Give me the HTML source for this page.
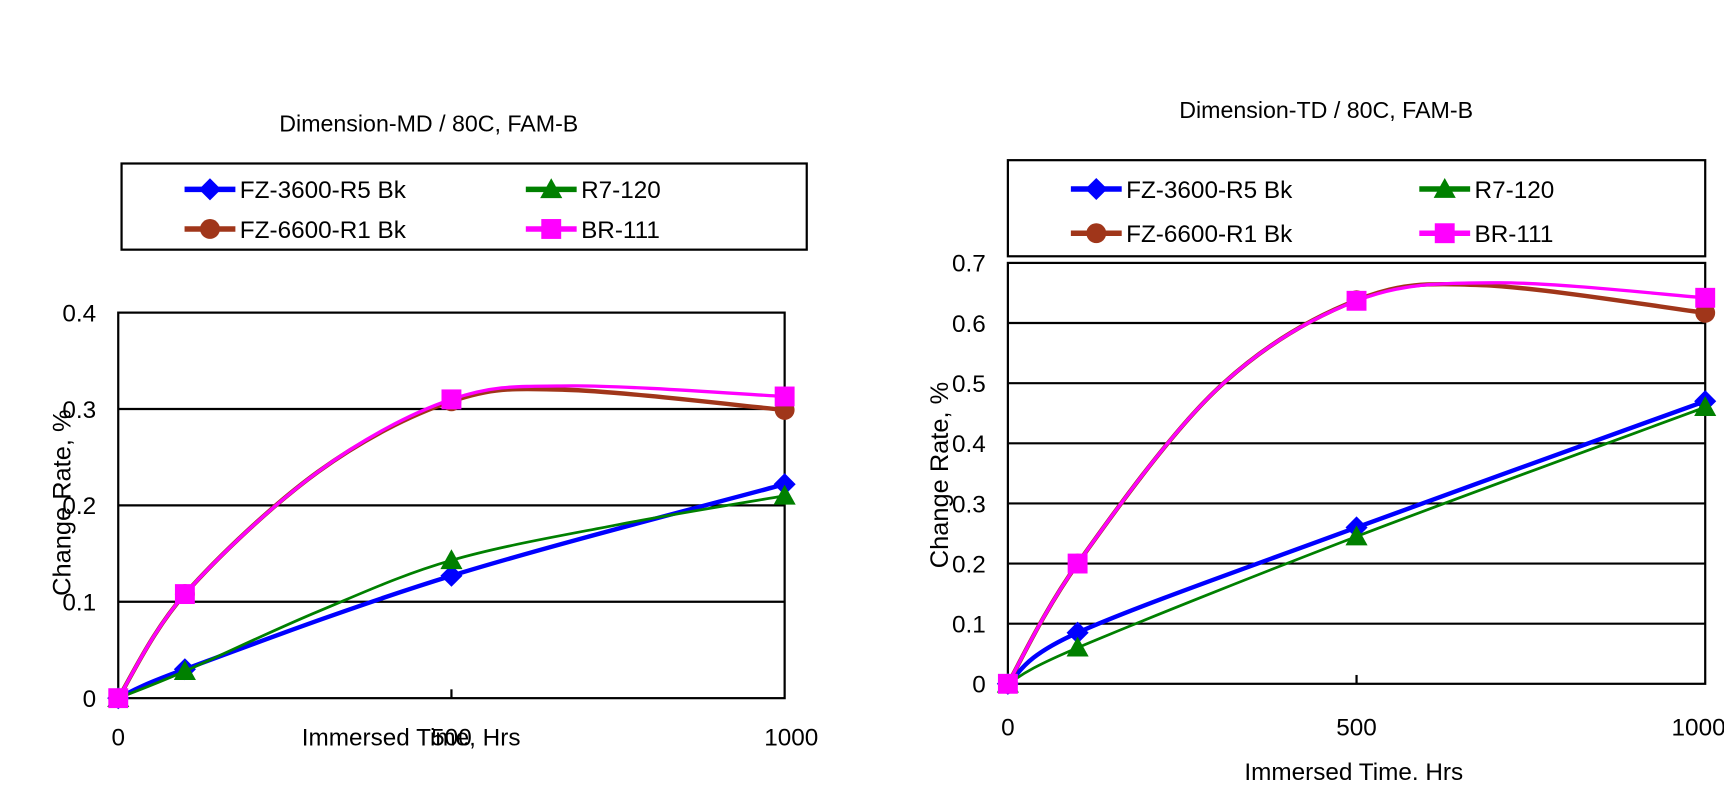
<!DOCTYPE html>
<html><head><meta charset="utf-8"><style>
html,body{margin:0;padding:0;background:#fff;}
svg{display:block;font-family:"Liberation Sans",Arial,sans-serif;}
</style></head><body>
<svg id="s" width="1724" height="802" viewBox="0 0 1560 726" preserveAspectRatio="none">
<rect width="1560" height="726" fill="#fff"/>
</svg>
<script>
const S=document.getElementById('s');const NS='http://www.w3.org/2000/svg';
function el(t,a,txt){const e=document.createElementNS(NS,t);for(const k in a)e.setAttribute(k,a[k]);if(txt!==undefined)e.textContent=txt;S.appendChild(e);return e;}
function cr(pts){let d='M'+pts[0][0]+','+pts[0][1];for(let i=0;i<pts.length-1;i++){const p0=pts[i-1]||pts[i],p1=pts[i],p2=pts[i+1],p3=pts[i+2]||p2;
const c1=[p1[0]+(p2[0]-p0[0])/6,p1[1]+(p2[1]-p0[1])/6],c2=[p2[0]-(p3[0]-p1[0])/6,p2[1]-(p3[1]-p1[1])/6];d+=' C'+c1+' '+c2+' '+p2;}return d;}
function marker(type,x,y,c){
 if(type=='d')el('polygon',{points:`${x},${y-10} ${x+10},${y} ${x},${y+10} ${x-10},${y}`,fill:c});
 if(type=='t')el('polygon',{points:`${x},${y-10} ${x+10},${y+8} ${x-10},${y+8}`,fill:c});
 if(type=='c')el('circle',{cx:x,cy:y,r:9,fill:c});
 if(type=='s')el('rect',{x:x-9,y:y-9,width:18,height:18,fill:c});
}
const series=[['#0000ff','d',4],['#008000','t',2.5],['#a0361a','c',4],['#ff00ff','s',3]];
function chart(o){
 const X=v=>o.x0+(o.x1-o.x0)*v/1000, Y=v=>o.y0-(o.y0-o.y1)*v/o.ymax;
 el('text',{x:o.tx,y:o.ty,'font-size':21,'text-anchor':'middle'},o.title);
 el('rect',{x:o.lx,y:o.ly,width:o.lw,height:o.lh,fill:'none',stroke:'#000','stroke-width':2});
 const names=['FZ-3600-R5 Bk','R7-120','FZ-6600-R1 Bk','BR-111'];
 const pos=[[o.lx+57,o.ly+o.lh*0.3],[o.lx+o.lw*0.59,o.ly+o.lh*0.3],[o.lx+57,o.ly+o.lh*0.76],[o.lx+o.lw*0.59,o.ly+o.lh*0.76]];
 pos.forEach((p,i)=>{const s=series[i];el('line',{x1:p[0],y1:p[1],x2:p[0]+46,y2:p[1],stroke:s[0],'stroke-width':5});marker(s[1],p[0]+23,p[1],s[0]);
  el('text',{x:p[0]+50,y:p[1]+8,'font-size':22},names[i]);});
 for(let v=o.step;v<o.ymax-1e-9;v+=o.step)el('line',{x1:o.x0,x2:o.x1,y1:Y(v),y2:Y(v),stroke:'#000','stroke-width':2});
 el('rect',{x:o.x0,y:o.y1,width:o.x1-o.x0,height:o.y0-o.y1,fill:'none',stroke:'#000','stroke-width':2});
 el('line',{x1:X(500),x2:X(500),y1:o.y0,y2:o.y0-8,stroke:'#000','stroke-width':2});
 for(let v=0;v<=o.ymax+1e-9;v+=o.step){const t=v==0?'0':v.toFixed(1);el('text',{x:o.x0-20,y:Y(v)+8,'font-size':22,'text-anchor':'end'},t);}
 [0,500,1000].forEach(v=>el('text',{x:X(v)+(v==1000?o.k1000:0),y:o.xly,'font-size':22,'text-anchor':'middle'},String(v)));
 el('text',{x:o.xtx,y:o.xty,'font-size':22,'text-anchor':'middle'},'Immersed Time'+o.sep+' Hrs');
 el('text',{x:0,y:0,'font-size':23,'text-anchor':'middle',transform:`translate(${o.ytx},${o.yty}) rotate(-90)`},'Change Rate, %');
 o.data.forEach((d,i)=>{const s=series[i];const pts=d.map(p=>[X(p[0]),Y(p[1])]);
  el('path',{d:cr(pts),fill:'none',stroke:s[0],'stroke-width':s[2]});
  [0,100,500,1000].forEach(t=>{const p=d.find(q=>q[0]==t);marker(s[1],X(t),Y(p[1]),s[0]);});});
}
chart({x0:107,x1:710,y0:632,y1:283,ymax:0.4,step:0.1,title:'Dimension-MD / 80C, FAM-B',tx:388,ty:119,
 lx:110,ly:148,lw:620,lh:78,xly:675,xtx:372,xty:675,sep:',',ytx:64,yty:455,k1000:6,
 data:[[[0,0],[100,0.03],[500,0.127],[1000,0.222]],
 [[0,0],[100,0.028],[300,0.09],[500,0.143],[750,0.18],[1000,0.21]],
 [[0,0],[100,0.108],[300,0.235],[500,0.308],[670,0.32],[1000,0.299]],
 [[0,0],[100,0.108],[300,0.235],[500,0.31],[680,0.324],[1000,0.313]]]});
chart({x0:912,x1:1543,y0:619,y1:238,ymax:0.7,step:0.1,title:'Dimension-TD / 80C, FAM-B',tx:1200,ty:107,
 lx:912,ly:145,lw:631,lh:87,xly:666,xtx:1225,xty:706,sep:'.',ytx:858,yty:430,k1000:-6,
 data:[[[0,0],[100,0.085],[500,0.26],[1000,0.47]],
 [[0,0],[100,0.06],[500,0.245],[1000,0.46]],
 [[0,0],[100,0.2],[300,0.49],[500,0.638],[680,0.663],[1000,0.617]],
 [[0,0],[100,0.2],[300,0.49],[500,0.637],[700,0.667],[1000,0.642]]]});
</script>
</body></html>
